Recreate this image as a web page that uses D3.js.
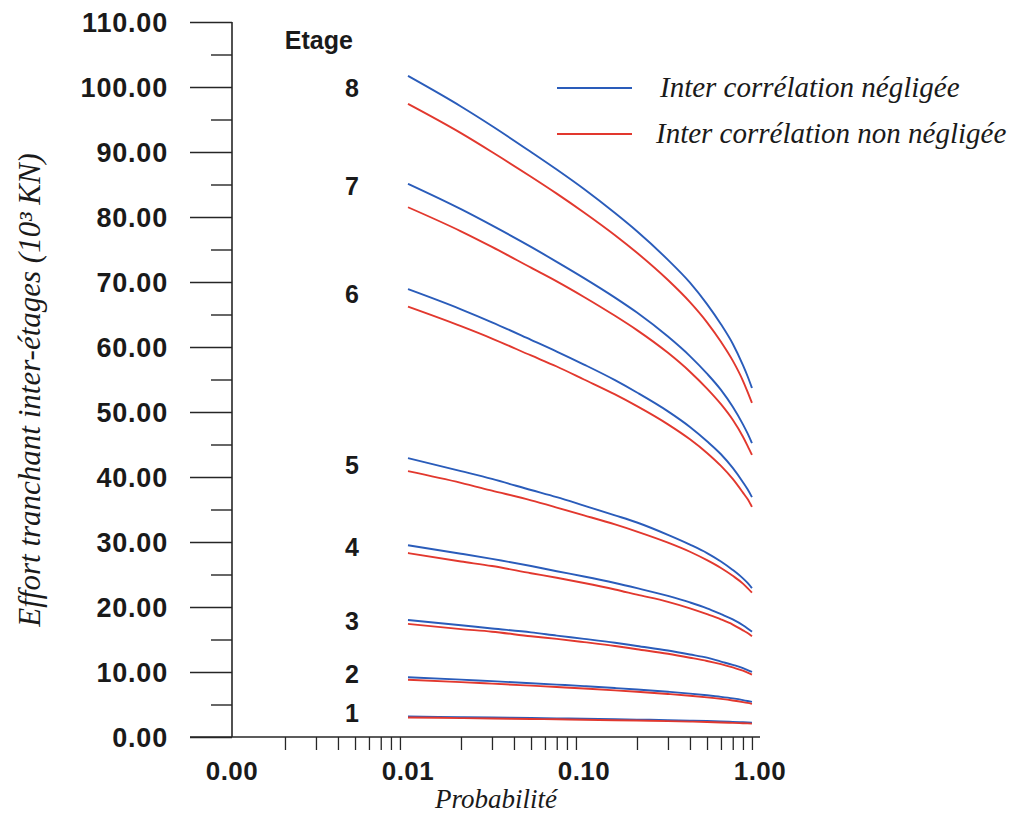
<!DOCTYPE html>
<html>
<head>
<meta charset="utf-8">
<script src="https://cdn.jsdelivr.net/npm/d3@7"></script>
<style>
  html, body { margin: 0; padding: 0; background: #ffffff; }
  svg { display: block; }
  .tick-label { font-family: "Liberation Sans", Arial, sans-serif; font-weight: bold; font-size: 26px; fill: #1a1a1a; }
  .serif-it { font-family: "Liberation Serif", "Times New Roman", serif; font-style: italic; fill: #1a1a1a; }
</style>
</head>
<body>
<svg id="chart" width="1018" height="816"></svg>
<script>
// Exceedance probabilities at which the inter-storey shear was evaluated
const probabilities = [0.01, 0.02, 0.03, 0.05, 0.07, 0.1, 0.15, 0.2, 0.3, 0.4, 0.5, 0.6, 0.7, 0.8, 0.85, 0.9];

// Storey numbers (Etage 1 .. 8)
const storeys = [1, 2, 3, 4, 5, 6, 7, 8];

// Shear force (10^3 kN), inter-correlation neglected
const shearNeglected = [
  [3.15, 3.06, 3.00, 2.92, 2.87, 2.81, 2.73, 2.68, 2.59, 2.52, 2.46, 2.39, 2.33, 2.27, 2.24, 2.20],
  [9.20, 8.83, 8.59, 8.28, 8.06, 7.82, 7.53, 7.31, 6.96, 6.68, 6.42, 6.18, 5.94, 5.68, 5.54, 5.40],
  [18.0, 17.2, 16.7, 16.1, 15.6, 15.1, 14.5, 14.0, 13.3, 12.7, 12.2, 11.6, 11.1, 10.6, 10.3, 10.0],
  [29.5, 28.2, 27.4, 26.3, 25.5, 24.7, 23.7, 22.9, 21.7, 20.7, 19.8, 18.9, 18.1, 17.2, 16.7, 16.2],
  [42.9, 40.9, 39.7, 38.0, 36.9, 35.6, 34.1, 33.0, 31.1, 29.6, 28.3, 27.0, 25.7, 24.4, 23.7, 22.9],
  [68.9, 65.8, 63.8, 61.1, 59.3, 57.3, 54.9, 53.0, 50.1, 47.7, 45.5, 43.5, 41.4, 39.2, 38.1, 36.9],
  [85.1, 81.2, 78.7, 75.4, 73.1, 70.6, 67.6, 65.3, 61.6, 58.6, 55.9, 53.4, 50.8, 48.1, 46.7, 45.2],
  [101.7, 97.0, 94.0, 90.0, 87.3, 84.3, 80.6, 77.8, 73.4, 69.9, 66.6, 63.5, 60.5, 57.2, 55.5, 53.7]
];

// Shear force (10^3 kN), inter-correlation taken into account
const shearCorrelated = [
  [3.00, 2.91, 2.85, 2.77, 2.72, 2.66, 2.58, 2.53, 2.44, 2.37, 2.31, 2.24, 2.18, 2.12, 2.09, 2.05],
  [8.80, 8.44, 8.21, 7.90, 7.69, 7.46, 7.18, 6.96, 6.62, 6.35, 6.10, 5.86, 5.62, 5.37, 5.24, 5.10],
  [17.4, 16.6, 16.2, 15.5, 15.1, 14.6, 14.0, 13.5, 12.8, 12.2, 11.7, 11.2, 10.7, 10.2, 9.9, 9.6],
  [28.3, 27.0, 26.3, 25.2, 24.5, 23.7, 22.7, 21.9, 20.8, 19.8, 18.9, 18.1, 17.3, 16.4, 16.0, 15.5],
  [40.9, 39.1, 37.9, 36.4, 35.3, 34.1, 32.7, 31.6, 29.9, 28.5, 27.2, 26.0, 24.8, 23.6, 22.9, 22.2],
  [66.2, 63.2, 61.3, 58.7, 57.0, 55.0, 52.7, 50.9, 48.1, 45.8, 43.7, 41.7, 39.7, 37.6, 36.6, 35.4],
  [81.5, 77.8, 75.4, 72.2, 70.1, 67.7, 64.8, 62.6, 59.1, 56.2, 53.6, 51.2, 48.8, 46.2, 44.8, 43.4],
  [97.4, 92.9, 90.0, 86.2, 83.6, 80.7, 77.2, 74.5, 70.3, 66.9, 63.8, 60.8, 57.9, 54.8, 53.1, 51.4]
];

// Height (in shear units) at which each storey number is written
const storeyLabelLevels = [3.7, 9.7, 17.8, 29.2, 41.8, 68.2, 84.8, 99.8];
const storeyLabelProb = 0.0048;
const storeyHeaderText = "Etage";
const storeyHeaderLevel = 107.2;

// Axis ticks
const xMajorTicks = [0.001, 0.01, 0.1, 1];
const xMajorLabels = ["0.00", "0.01", "0.10", "1.00"];
const yMajorTicks = [0, 10, 20, 30, 40, 50, 60, 70, 80, 90, 100, 110];
const yMinorTicks = [5, 15, 25, 35, 45, 55, 65, 75, 85, 95, 105];

const seriesNames = ["Inter corrélation négligée", "Inter corrélation non négligée"];
const seriesColors = ["#2a5cba", "#e2382e"];

const xTitle = "Probabilité";
const yTitle = "Effort tranchant inter-étages (10³ KN)";

// ---- drawing ----
const svg = d3.select("#chart");

const x = d3.scaleLog().domain([0.001, 1]).range([232, 760]);
const y = d3.scaleLinear().domain([0, 110]).range([737, 22]);

// x minor ticks (2..9 within each decade)
const xMinor = [];
[0.001, 0.01, 0.1].forEach(d => { for (let k = 2; k <= 9; k++) xMinor.push(d * k); });

const axisColor = "#262626";
const labelFont = '"Liberation Sans", Arial, sans-serif';

// X axis: baseline with downward minor ticks
const xAxis = d3.axisBottom(x)
  .tickValues(xMinor)
  .tickSize(13)
  .tickFormat("");
const gx = svg.append("g").attr("transform", `translate(0,${y(0)})`).call(xAxis);
gx.select(".domain").remove();
gx.selectAll(".tick line").attr("stroke", axisColor).attr("stroke-width", 1.3);

svg.append("line")
  .attr("x1", x(0.001) - 42).attr("x2", x(1))
  .attr("y1", y(0)).attr("y2", y(0))
  .attr("stroke", axisColor).attr("stroke-width", 1.6);

svg.selectAll("text.xlab")
  .data(xMajorTicks)
  .join("text")
  .attr("class", "tick-label xlab")
  .attr("x", d => x(d))
  .attr("y", y(0) + 43)
  .attr("text-anchor", "middle")
  .style("letter-spacing", "0.5px")
  .text((d, i) => xMajorLabels[i]);

// Y axis: vertical line with leftward major/minor ticks
svg.append("line")
  .attr("x1", x(0.001)).attr("x2", x(0.001))
  .attr("y1", y(0)).attr("y2", y(110))
  .attr("stroke", axisColor).attr("stroke-width", 1.6);

const yMajorAxis = d3.axisLeft(y).tickValues(yMajorTicks).tickSize(42)
  .tickFormat(d => d3.format(".2f")(d)).tickPadding(22);
const gy = svg.append("g").attr("transform", `translate(${x(0.001)},0)`).call(yMajorAxis);
gy.select(".domain").remove();
gy.selectAll(".tick line").attr("stroke", axisColor).attr("stroke-width", 1.6);
gy.selectAll(".tick text").attr("class", "tick-label").attr("dy", "0.36em")
  .style("font-family", labelFont)
  .style("font-weight", "bold").style("font-size", "27px")
  .style("letter-spacing", "0.8px")
  .attr("fill", "#1a1a1a");

const yMinorAxis = d3.axisLeft(y).tickValues(yMinorTicks).tickSize(21).tickFormat("");
const gy2 = svg.append("g").attr("transform", `translate(${x(0.001)},0)`).call(yMinorAxis);
gy2.select(".domain").remove();
gy2.selectAll(".tick line").attr("stroke", axisColor).attr("stroke-width", 1.4);

// Curves
const line = d3.line()
  .x((d, i) => x(probabilities[i]))
  .y(d => y(d))
  .curve(d3.curveMonotoneX);

const curveGroups = [shearNeglected, shearCorrelated];
curveGroups.forEach((group, s) => {
  svg.append("g")
    .selectAll("path")
    .data(group)
    .join("path")
    .attr("d", d => line(d))
    .attr("fill", "none")
    .attr("stroke", seriesColors[s])
    .attr("stroke-width", 1.9);
});

// Storey labels
svg.append("text")
  .attr("class", "tick-label")
  .attr("x", x(storeyLabelProb) - 33)
  .attr("y", y(storeyHeaderLevel))
  .attr("dy", "0.36em")
  .attr("text-anchor", "middle")
  .style("font-size", "25px")
  .text(storeyHeaderText);

svg.selectAll("text.storey")
  .data(storeys)
  .join("text")
  .attr("class", "tick-label storey")
  .attr("x", x(storeyLabelProb))
  .attr("y", (d, i) => y(storeyLabelLevels[i]))
  .attr("dy", "0.36em")
  .attr("text-anchor", "middle")
  .style("font-size", "25px")
  .text(d => d);

// Legend
const legend = svg.append("g");
seriesNames.forEach((name, i) => {
  const ly = 88 + i * 46;
  legend.append("line")
    .attr("x1", 557).attr("x2", 632)
    .attr("y1", ly).attr("y2", ly)
    .attr("stroke", seriesColors[i]).attr("stroke-width", 1.8);
  legend.append("text")
    .attr("class", "serif-it")
    .attr("x", 660 - i * 4)
    .attr("y", ly)
    .attr("dy", "0.32em")
    .style("font-size", "29px")
    .text(name);
});

// Axis titles
svg.append("text")
  .attr("class", "serif-it")
  .attr("x", x(0.0316))
  .attr("y", 808)
  .attr("text-anchor", "middle")
  .style("font-size", "27px")
  .text(xTitle);

svg.append("text")
  .attr("class", "serif-it")
  .attr("transform", `translate(40, ${y(53.4)}) rotate(-90)`)
  .attr("text-anchor", "middle")
  .style("font-size", "31px")
  .text(yTitle);
</script>
</body>
</html>
